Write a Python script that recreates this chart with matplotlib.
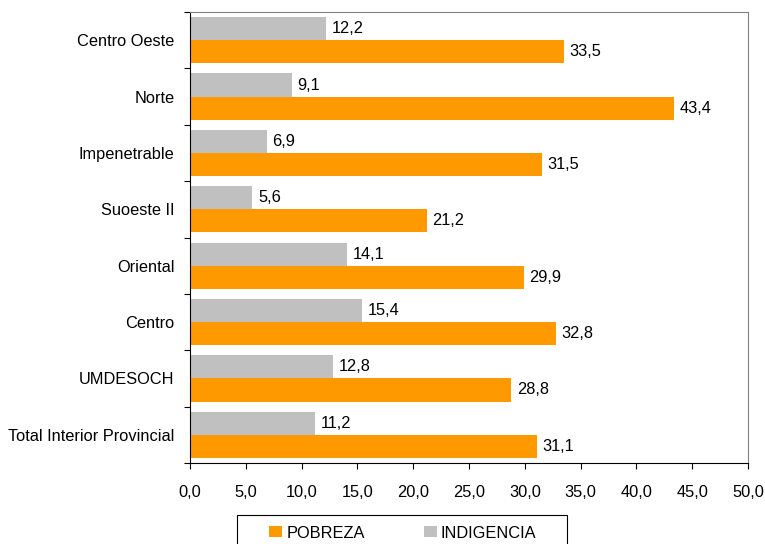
import numpy as np
import matplotlib
matplotlib.use("Agg")
import matplotlib.pyplot as plt
from matplotlib.patches import Rectangle

plt.rcParams['font.family'] = ['Liberation Sans', 'DejaVu Sans']

# datos por región
regiones = ['Centro Oeste', 'Norte', 'Impenetrable', 'Suoeste II', 'Oriental',
            'Centro', 'UMDESOCH', 'Total Interior Provincial']
pobreza = [33.5, 43.4, 31.5, 21.2, 29.9, 32.8, 28.8, 31.1]
indigencia = [12.2, 9.1, 6.9, 5.6, 14.1, 15.4, 12.8, 11.2]
xticks = [0, 5, 10, 15, 20, 25, 30, 35, 40, 45, 50]

naranja = '#FF9900'
gris = '#C0C0C0'
fs = 11.8

W, H = 765, 544
fig = plt.figure(figsize=(W / 100, H / 100), dpi=100)
ax = fig.add_axes([190 / W, 1 - 463 / H, (748 - 190) / W, (463 - 12) / H])

n = len(regiones)
pos = np.arange(n)[::-1]
h = 0.41

b1 = ax.barh(pos - h / 2, pobreza, height=h, color=naranja, label='POBREZA')
b2 = ax.barh(pos + h / 2, indigencia, height=h, color=gris, label='INDIGENCIA')

def fmt(v):
    return f'{v:.1f}'.replace('.', ',')

for p, v in zip(pos, pobreza):
    ax.text(v + 0.5, p - h / 2, fmt(v), va='center', ha='left', fontsize=fs)
for p, v in zip(pos, indigencia):
    ax.text(v + 0.5, p + h / 2, fmt(v), va='center', ha='left', fontsize=fs)

ax.set_xlim(0, 50)
ax.set_ylim(-0.5, n - 0.5)
ax.set_xticks(xticks)
ax.set_xticklabels([fmt(t) for t in xticks], fontsize=fs)
ax.tick_params(axis='x', direction='out', length=4.5, pad=11, color='black')

ax.set_yticks(np.arange(n + 1) - 0.5)
ax.set_yticklabels([])
ax.set_yticks(pos, minor=True)
ax.set_yticklabels(regiones, minor=True, fontsize=fs)
ax.tick_params(axis='y', which='major', direction='out', length=4.5, color='black')
ax.tick_params(axis='y', which='minor', length=0, pad=11)

for s in ['top', 'right']:
    ax.spines[s].set_color('#808080')
for s in ['left', 'bottom']:
    ax.spines[s].set_color('black')

# recuadro de la leyenda (cortado por el borde inferior)
fig.patches.append(Rectangle((237 / W, -0.02), (567 - 237) / W, 0.02 + 1 - 515 / H,
                             transform=fig.transFigure, fill=False,
                             edgecolor='black', linewidth=0.8))

leg = fig.legend(handles=[b1, b2], loc='center left',
                 bbox_to_anchor=(269 / W, 1 - 533 / H), ncol=2,
                 frameon=False, fontsize=fs, handlelength=0.8, handleheight=0.65,
                 handletextpad=0.25, columnspacing=3.6, borderpad=0,
                 borderaxespad=0)

fig.savefig('out.png', dpi=100)
